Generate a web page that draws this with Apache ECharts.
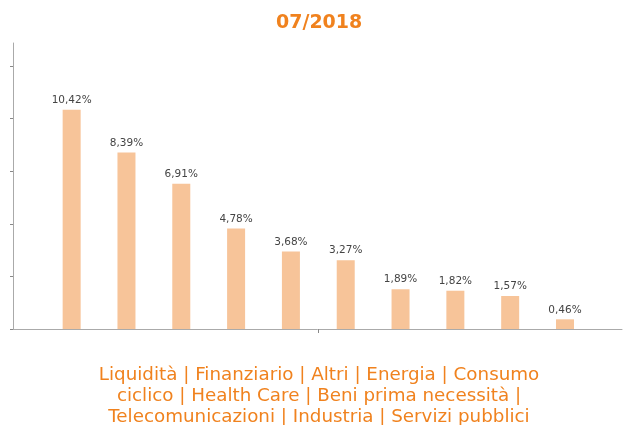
<!DOCTYPE html>
<html>
<head>
<meta charset="utf-8">
<script src="https://cdn.jsdelivr.net/npm/echarts@6/dist/echarts.min.js"></script>
<style>html,body{margin:0;padding:0;background:#fff;}#c{width:624px;height:425px;}</style>
</head>
<body>
<div id="c"></div>
<script>
var title = "07/2018";
var categories = ["Liquidità", "Finanziario", "Altri", "Energia", "Consumo ciclico", "Health Care", "Beni prima necessità", "Telecomunicazioni", "Industria", "Servizi pubblici"];
var values = [10.42, 8.39, 6.91, 4.78, 3.68, 3.27, 1.89, 1.82, 1.57, 0.46];
var yTicks = [0, 2.5, 5, 7.5, 10, 12.5];
var footerLines = [
  "Liquidità | Finanziario | Altri | Energia | Consumo",
  "ciclico | Health Care | Beni prima necessità |",
  "Telecomunicazioni | Industria | Servizi pubblici"
];

var chart = echarts.init(document.getElementById('c'), null, {renderer: 'canvas'});
var data = values.map(function (v, i) { return [i, v, categories[i]]; });
var footerGraphics = footerLines.map(function (line, i) {
  return {
    type: 'text', x: 319, y: 366 + i * 21,
    style: {
      text: line, fill: '#F0821E', align: 'center', verticalAlign: 'top',
      font: 'normal 18.3px "DejaVu Sans"'
    }
  };
});
chart.setOption({
  animation: false,
  backgroundColor: '#fff',
  title: {
    text: title, left: 276, top: 14, padding: 0,
    textStyle: {color: '#F0821E', fontSize: 19, fontWeight: 'bold', fontFamily: 'DejaVu Sans'}
  },
  graphic: footerGraphics,
  grid: {left: 13, right: 2, top: 43, bottom: 96, containLabel: false},
  xAxis: {
    type: 'value', min: -1.07, max: 10.04,
    splitLine: {show: false},
    axisLine: {show: true, onZero: false, lineStyle: {color: '#aaa', width: 1}},
    axisTick: {show: true, customValues: [4.5], length: 4, inside: false, lineStyle: {color: '#888'}},
    axisLabel: {show: false}
  },
  yAxis: {
    type: 'value', min: 0, max: 13.6,
    splitLine: {show: false},
    axisLine: {show: true, onZero: false, lineStyle: {color: '#aaa', width: 1}},
    axisTick: {show: true, customValues: yTicks, length: 3, lineStyle: {color: '#888'}},
    axisLabel: {show: false}
  },
  series: [{
    type: 'bar',
    data: data,
    barWidth: 18,
    itemStyle: {color: '#F7C499'},
    label: {
      show: true, position: 'top', distance: 4,
      color: '#444', fontSize: 10.5, fontFamily: 'DejaVu Sans',
      formatter: function (p) { return p.value[1].toFixed(2).replace('.', ',') + '%'; }
    }
  }]
});
</script>
</body>
</html>
